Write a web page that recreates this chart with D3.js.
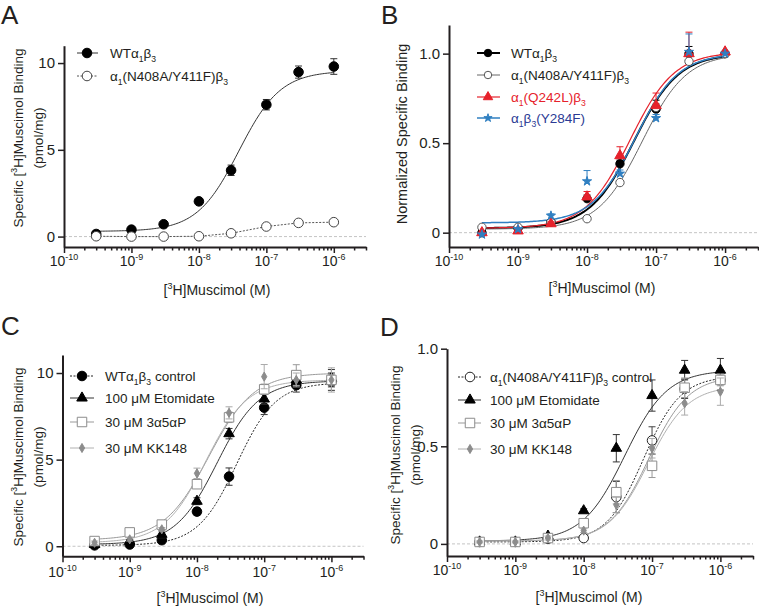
<!DOCTYPE html>
<html>
<head>
<meta charset="utf-8">
<script src="https://cdn.jsdelivr.net/npm/d3@7"></script>
<style>
  body { margin: 0; background: #fff; }
  svg { font-family: "Liberation Sans", Arial, sans-serif; }
</style>
</head>
<body>
<svg width="759" height="607"></svg>
<script>
// concentrations (M) and axis ticks shared by all panels
const conc = [3e-10, 1e-9, 3e-9, 1e-8, 3e-8, 1e-7, 3e-7, 1e-6]
const xTicks = [1e-10, 1e-9, 1e-8, 1e-7, 1e-6]
const xTickLabels = ['10^{-10}', '10^{-9}', '10^{-8}', '10^{-7}', '10^{-6}']

// fit params: [bottom, top, EC50, hill]
// panel A
const aWT = [0.15, 0.4, 0.71, 2.03, 3.82, 7.6, 9.48, 9.8]
const aWTErr = [0.05, 0.05, 0.08, 0.1, 0.3, 0.3, 0.35, 0.45]
const aWTFit = [0.3, 9.55, 3.9e-8, 1.4]
const aMut = [0.02, 0.0, 0.0, 0.02, 0.19, 0.58, 0.79, 0.83]
const aMutErr = [0.03, 0.03, 0.03, 0.03, 0.04, 0.05, 0.05, 0.05]

// panel B (normalized, upper error bars only)
const bWT = [0.0, 0.025, 0.06, 0.19, 0.385, 0.69, 1.0, 1.0]
const bWTErr = [0.01, 0.01, 0.01, 0.02, 0.02, 0.05, 0.04, 0.0]
const bWTFit = [0.025, 1.0, 4.8e-8, 1.35]
const bMut = [0.03, 0.03, 0.06, 0.078, 0.28, 0.7, 0.957, 1.0]
const bMutErr = [0.0, 0.0, 0.0, 0.0, 0.01, 0.02, 0.01, 0.0]
const bMutFit = [0.02, 1.0, 6.3e-8, 1.35]
const bQ242L = [0.0, 0.01, 0.05, 0.2, 0.43, 0.71, 1.0, 1.01]
const bQ242LErr = [0.0, 0.01, 0.01, 0.03, 0.05, 0.07, 0.12, 0.0]
const bQ242LFit = [0.025, 1.01, 4.2e-8, 1.35]
const bY284F = [-0.01, 0.02, 0.095, 0.287, 0.33, 0.64, 1.01, 1.0]
const bY284FErr = [0.0, 0.0, 0.01, 0.06, 0.02, 0.02, 0.1, 0.0]
const bY284FFit = [0.055, 1.0, 5.0e-8, 1.4]

// panel C
const cWT = [0.05, 0.1, 0.35, 2.0, 4.02, 8.0, 9.3, 9.5]
const cWTErr = [0.1, 0.1, 0.2, 0.2, 0.5, 0.4, 0.4, 0.5]
const cWTFit = [0.05, 9.45, 3.9e-8, 1.5]
const cEto = [0.1, 0.29, 0.69, 2.6, 6.5, 8.5, 9.6, 9.7]
const cEtoErr = [0.1, 0.1, 0.2, 0.2, 0.3, 0.3, 0.3, 0.5]
const cEtoFit = [0.1, 9.55, 2.0e-8, 1.4]
const cAllo = [0.3, 0.8, 1.25, 3.58, 7.44, 9.06, 9.88, 9.6]
const cAlloErr = [0.1, 0.1, 0.2, 0.2, 0.3, 0.3, 0.6, 0.3]
const cAlloFit = [0.35, 10.0, 1.5e-8, 1.3]
const cKK = [0.2, 0.4, 0.98, 4.21, 7.7, 9.79, 9.6, 9.6]
const cKKErr = [0.1, 0.1, 0.1, 0.3, 0.35, 0.7, 0.4, 0.7]
const cKKFit = [0.2, 9.6, 1.35e-8, 1.4]

// panel D
const dCtl = [0.01, 0.01, 0.026, 0.03, 0.24, 0.53, 0.795, 0.838]
const dCtlErr = [0.005, 0.005, 0.01, 0.01, 0.08, 0.07, 0.05, 0.05]
const dCtlFit = [0.01, 0.86, 7.5e-8, 1.6]
const dEto = [0.01, 0.01, 0.04, 0.17, 0.49, 0.76, 0.89, 0.89]
const dEtoErr = [0.005, 0.005, 0.01, 0.01, 0.07, 0.08, 0.05, 0.06]
const dEtoFit = [0.015, 0.89, 4.0e-8, 1.4]
const dAllo = [0.01, 0.01, 0.03, 0.106, 0.265, 0.4, 0.8, 0.84]
const dAlloErr = [0.005, 0.005, 0.01, 0.02, 0.06, 0.06, 0.05, 0.03]
const dAlloFit = [0.015, 0.86, 9.0e-8, 1.5]
const dKK = [0.01, 0.01, 0.03, 0.068, 0.2, 0.49, 0.72, 0.78]
const dKKErr = [0.005, 0.005, 0.01, 0.01, 0.04, 0.05, 0.06, 0.07]
const dKKFit = [0.015, 0.81, 8.8e-8, 1.5]

const svg = d3.select('svg')
const ink = '#231f20'
const red = '#e6212b'
const blue = '#2f7fc1'
const gray = '#8c8c8c'

// text with _{sub} and ^{sup} pieces
function rich(text, str, size) {
    let shift = 0
    str.split(/([_^]\{[^}]*\})/).filter(s => s).forEach(part => {
        let t = text.append('tspan')
        if (/^[_^]\{/.test(part)) {
            let d = part[0] == '_' ? size * 0.3 : -size * 0.42
            t.text(part.slice(2, -1)).attr('font-size', size * 0.64).attr('dy', d - shift)
            shift = d
        } else {
            t.text(part)
            if (shift) { t.attr('dy', -shift); shift = 0 }
        }
    })
}

function hill(p, c) {
    return p[0] + (p[1] - p[0]) / (1 + Math.pow(p[2] / c, p[3]))
}

function marker(g, s, cx, cy, scale) {
    g.append('path')
        .attr('d', d3.symbol().type(s.shape).size(s.size * (scale || 1))())
        .attr('transform', `translate(${cx},${cy})`)
        .attr('fill', s.fill)
        .attr('stroke', s.stroke)
        .attr('stroke-width', 1)
}

function panel(cfg) {
    let g = svg.append('g')
    let x = d3.scaleLog().domain([1e-10, 3e-6]).range(cfg.xr)
    let y = d3.scaleLinear().domain(cfg.yd).range(cfg.yr)
    let y0 = cfg.yr[0]

    // zero line
    g.append('line')
        .attr('x1', cfg.xr[0]).attr('x2', cfg.xr[1])
        .attr('y1', y(0)).attr('y2', y(0))
        .attr('stroke', '#c4c4c4').attr('stroke-dasharray', '3,2')

    // fitted curves / connecting lines
    cfg.series.forEach(s => {
        let pts
        if (s.fit) {
            let lo = Math.log10(conc[0]), hi = Math.log10(conc[conc.length - 1])
            pts = d3.range(0, 151).map(i => {
                let c = Math.pow(10, lo + (hi - lo) * i / 150)
                return [x(c), y(hill(s.fit, c))]
            })
        } else {
            pts = conc.map((c, i) => [x(c), y(s.values[i])])
        }
        g.append('path')
            .attr('d', d3.line()(pts))
            .attr('fill', 'none')
            .attr('stroke', s.line)
            .attr('stroke-width', s.lw || 1)
            .attr('stroke-dasharray', s.dash || null)
    })

    // error bars and markers
    cfg.series.forEach(s => {
        conc.forEach((c, i) => {
            let e = s.err[i]
            if (e <= 0) return
            let cx = x(c)
            let top = y(s.values[i] + e)
            let bot = cfg.upOnly ? y(s.values[i]) : y(s.values[i] - e)
            let eg = g.append('g').attr('stroke', s.bar).attr('stroke-width', 1)
            eg.append('line').attr('x1', cx).attr('x2', cx).attr('y1', top).attr('y2', bot)
            eg.append('line').attr('x1', cx - 3.5).attr('x2', cx + 3.5).attr('y1', top).attr('y2', top)
            if (!cfg.upOnly) eg.append('line').attr('x1', cx - 3.5).attr('x2', cx + 3.5).attr('y1', bot).attr('y2', bot)
        })
        conc.forEach((c, i) => marker(g, s, x(c), y(s.values[i])))
    })

    // x axis: major + minor ticks
    let minor = []
    xTicks.forEach(t => d3.range(2, 10).forEach(k => { if (k * t <= 3e-6) minor.push(k * t) }))
    g.append('g')
        .attr('transform', `translate(0,${y0})`)
        .call(d3.axisBottom(x).tickValues(minor).tickSize(3.5).tickFormat('').tickSizeOuter(0))
        .call(a => a.select('.domain').remove())
    let gx = g.append('g')
        .attr('transform', `translate(0,${y0})`)
        .call(d3.axisBottom(x).tickValues(xTicks).tickSize(6).tickFormat('').tickSizeOuter(0))
    gx.select('.domain').attr('stroke-width', 2)
    g.selectAll('.tick line').attr('stroke', ink).attr('stroke-width', 1.5)
    gx.select('.domain').attr('stroke', ink)

    xTicks.forEach((t, i) => {
        let tx = g.append('text')
            .attr('x', x(t)).attr('y', y0 + cfg.xlab)
            .attr('text-anchor', 'middle')
            .attr('font-size', 14).attr('fill', ink)
        rich(tx, xTickLabels[i], 14)
    })

    // y axis
    let gy = g.append('g')
        .attr('transform', `translate(${cfg.xr[0]},0)`)
        .call(d3.axisLeft(y).tickValues(cfg.yTicks).tickSize(6).tickSizeOuter(0).tickFormat(cfg.yFmt).tickPadding(3))
    gy.select('.domain').attr('stroke', ink).attr('stroke-width', 2)
    gy.selectAll('.tick line').attr('stroke', ink).attr('stroke-width', 1.5)
    gy.selectAll('.tick text').attr('font-size', 15).attr('fill', ink)
        .attr('font-family', '"Liberation Sans", Arial, sans-serif')

    // axis titles
    let xt = g.append('text')
        .attr('x', cfg.xTitle[0]).attr('y', cfg.xTitle[1])
        .attr('text-anchor', 'middle').attr('font-size', 14).attr('fill', ink)
    rich(xt, '[^{3}H]Muscimol (M)', 14)
    let ts = cfg.yTitle.size || 13.5
    cfg.yTitle.lines.forEach((ln, i) => {
        let yt = g.append('text')
            .attr('transform', `translate(${cfg.yTitle.x[i]},${cfg.yTitle.y}) rotate(-90)`)
            .attr('text-anchor', 'middle').attr('font-size', ts).attr('fill', ink)
        rich(yt, ln, ts)
    })

    // legend
    let L = cfg.legend
    cfg.series.forEach((s, i) => {
        let ly = L.rows[i]
        g.append('line')
            .attr('x1', L.line[0]).attr('x2', L.line[1])
            .attr('y1', ly).attr('y2', ly)
            .attr('stroke', s.line).attr('stroke-width', s.lw || 1)
            .attr('stroke-dasharray', s.dash || null)
        marker(g, s, L.mark, ly, L.scale)
        let lt = g.append('text')
            .attr('x', L.text).attr('y', ly + 4.5)
            .attr('font-size', 13.5).attr('fill', s.textColor || ink)
        rich(lt, s.label, 13.5)
    })

    // panel letter
    svg.append('text')
        .attr('x', cfg.letter[1]).attr('y', cfg.letter[2])
        .attr('font-size', 26).attr('fill', ink)
        .text(cfg.letter[0])
}

const fmt10 = d => String(d)
const fmt1 = d => d == 0 ? '0' : d.toFixed(1)

panel({
    letter: ['A', 1, 24],
    xr: [64, 366], yd: [-0.6, 11], yr: [247, 45.7],
    yTicks: [0, 5, 10], yFmt: fmt10, xlab: 19,
    xTitle: [217, 295],
    yTitle: { lines: ['Specific [^{3}H]Muscimol Binding', '(pmol/mg)'], x: [23, 43], y: 138 },
    legend: { line: [77, 98], mark: 87, text: 110, rows: [53, 76] },
    series: [
        { label: 'WTα_{1}β_{3}', values: aWT, err: aWTErr, fit: aWTFit,
          shape: d3.symbolCircle, size: 72, fill: '#000', stroke: '#000', line: '#333', bar: '#333' },
        { label: 'α_{1}(N408A/Y411F)β_{3}', values: aMut, err: aMutErr,
          shape: d3.symbolCircle, size: 72, fill: '#fff', stroke: '#444', line: '#555', bar: '#555', dash: '2,1.5' }
    ]
})

panel({
    letter: ['B', 381, 24],
    xr: [449, 758], yd: [-0.08, 1.16], yr: [247, 25],
    yTicks: [0, 0.5, 1.0], yFmt: fmt1, xlab: 19, upOnly: true,
    xTitle: [602, 293],
    yTitle: { lines: ['Normalized Specific Binding'], x: [407], y: 134, size: 14.5 },
    legend: { line: [477, 500], mark: 488, text: 511, rows: [53, 75, 97, 118], scale: 0.8 },
    series: [
        { label: 'WTα_{1}β_{3}', values: bWT, err: bWTErr, fit: bWTFit, lw: 2,
          shape: d3.symbolCircle, size: 55, fill: '#000', stroke: '#000', line: '#000', bar: '#000' },
        { label: 'α_{1}(N408A/Y411F)β_{3}', values: bMut, err: bMutErr, fit: bMutFit,
          shape: d3.symbolCircle, size: 55, fill: '#fff', stroke: '#555', line: '#666', bar: '#666' },
        { label: 'α_{1}(Q242L)β_{3}', values: bQ242L, err: bQ242LErr, fit: bQ242LFit, lw: 1.2, textColor: red,
          shape: d3.symbolTriangle, size: 48, fill: red, stroke: red, line: red, bar: red },
        { label: 'α_{1}β_{3}(Y284F)', values: bY284F, err: bY284FErr, fit: bY284FFit, lw: 1.5, textColor: '#2b3a94',
          shape: d3.symbolStar, size: 26, fill: blue, stroke: blue, line: blue, bar: blue }
    ]
})

panel({
    letter: ['C', 1, 335],
    xr: [62.5, 363.5], yd: [-0.58, 11.04], yr: [556.3, 355],
    yTicks: [0, 5, 10], yFmt: fmt10, xlab: 21,
    xTitle: [210, 603],
    yTitle: { lines: ['Specific [^{3}H]Muscimol Binding', '(pmol/mg)'], x: [23, 43], y: 457 },
    legend: { line: [70, 94], mark: 82, text: 105, rows: [376, 398, 422, 448] },
    series: [
        { label: 'WTα_{1}β_{3} control', values: cWT, err: cWTErr, fit: cWTFit, dash: '2,1.5',
          shape: d3.symbolCircle, size: 72, fill: '#000', stroke: '#000', line: '#222', bar: '#333' },
        { label: '100 μM Etomidate', values: cEto, err: cEtoErr, fit: cEtoFit,
          shape: d3.symbolTriangle, size: 48, fill: '#000', stroke: '#000', line: '#333', bar: '#333' },
        { label: '30 μM 3α5αP', values: cAllo, err: cAlloErr, fit: cAlloFit,
          shape: d3.symbolSquare, size: 90, fill: '#fff', stroke: gray, line: '#999', bar: '#999' },
        { label: '30 μM KK148', values: cKK, err: cKKErr, fit: cKKFit,
          shape: d3.symbolDiamond, size: 24, fill: gray, stroke: gray, line: '#b0b0b0', bar: '#aaa' }
    ]
})

panel({
    letter: ['D', 380, 336],
    xr: [447, 753], yd: [-0.062, 1.0], yr: [556, 348.7],
    yTicks: [0, 0.5, 1.0], yFmt: fmt1, xlab: 19,
    xTitle: [589, 602],
    yTitle: { lines: ['Specific [^{3}H]Muscimol Binding', '(pmol/mg)'], x: [400, 420], y: 455 },
    legend: { line: [458, 481], mark: 470, text: 490, rows: [377, 400, 423, 449] },
    series: [
        { label: 'α_{1}(N408A/Y411F)β_{3} control', values: dCtl, err: dCtlErr, fit: dCtlFit, dash: '2,1.5',
          shape: d3.symbolCircle, size: 72, fill: '#fff', stroke: '#222', line: '#222', bar: '#444' },
        { label: '100 μM Etomidate', values: dEto, err: dEtoErr, fit: dEtoFit,
          shape: d3.symbolTriangle, size: 48, fill: '#000', stroke: '#000', line: '#333', bar: '#333' },
        { label: '30 μM 3α5αP', values: dAllo, err: dAlloErr, fit: dAlloFit,
          shape: d3.symbolSquare, size: 90, fill: '#fff', stroke: gray, line: '#999', bar: '#999' },
        { label: '30 μM KK148', values: dKK, err: dKKErr, fit: dKKFit,
          shape: d3.symbolDiamond, size: 24, fill: gray, stroke: gray, line: '#b0b0b0', bar: '#aaa' }
    ]
})
</script>
</body>
</html>
